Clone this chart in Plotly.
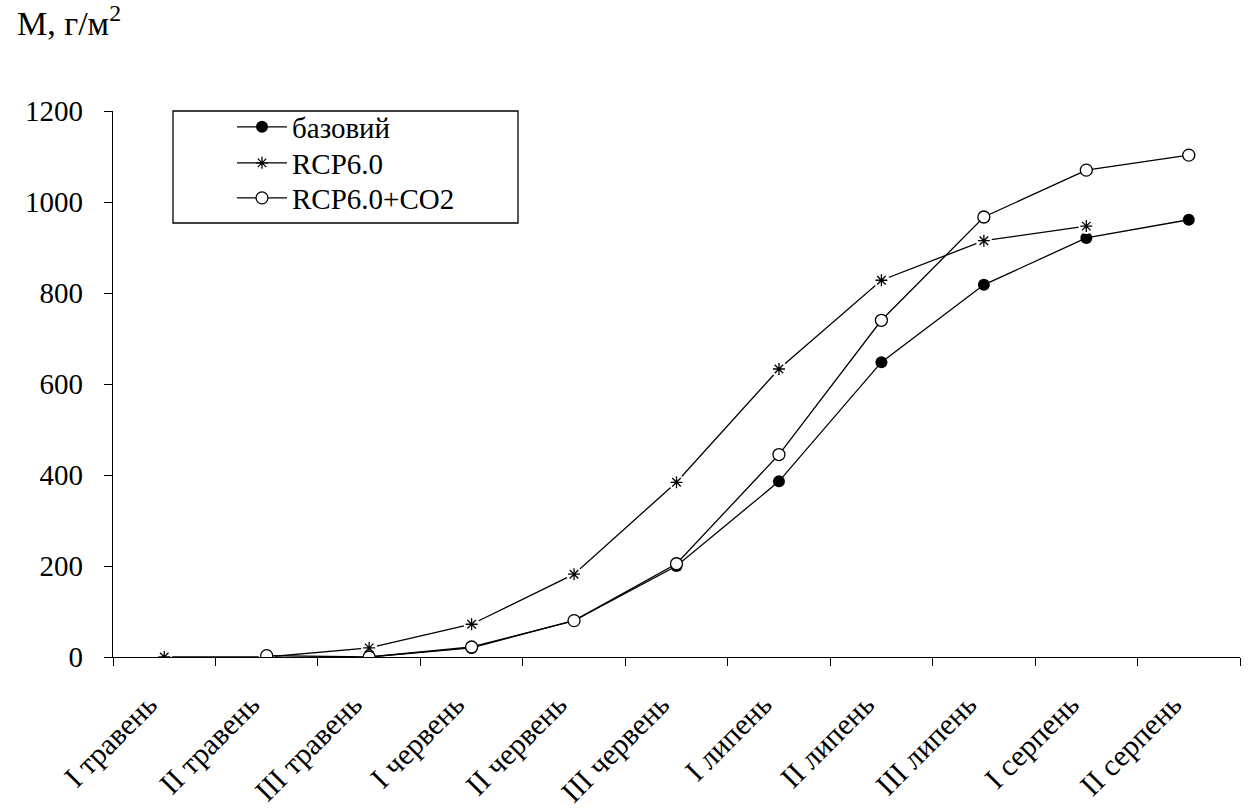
import plotly.graph_objects as go

categories = ["I травень", "II травень", "III травень", "I червень", "II червень",
              "III червень", "I липень", "II липень", "III липень", "I серпень", "II серпень"]
base = [None, None, 0, 20, 80, 200, 386, 648, 818, 921, 961]
rcp = [0, 0, 20, 72, 182, 384, 633, 828, 915, 947, None]
rcp_co2 = [None, 3, 0, 22, 80, 205, 445, 740, 967, 1070, 1103]
y_ticks = [0, 200, 400, 600, 800, 1000, 1200]

FONT = "Liberation Serif, Times New Roman, serif"
PAD = "\u00a0\u00a0\u00a0"
W, L, T, H, B = 1127, 113, 111, 546, 657


def px_x(p):
    return (p - L) / W


def px_y(p):
    return (B - p) / H


fig = go.Figure()

# legend-only entries, one legend each so the row spacing can follow the reference
fig.add_trace(go.Scatter(x=[None], y=[None], name="базовий", mode="lines+markers",
                         legend="legend",
                         line=dict(color="black", width=1.3),
                         marker=dict(symbol="circle", size=12, color="black")))
fig.add_trace(go.Scatter(x=[None], y=[None], name="RCP6.0", mode="lines+markers",
                         legend="legend2",
                         line=dict(color="black", width=1.3),
                         marker=dict(symbol="asterisk-open", size=10, color="black",
                                     line=dict(color="black", width=1.3))))
fig.add_trace(go.Scatter(x=[None], y=[None], name="RCP6.0+CO2", mode="lines+markers",
                         legend="legend3",
                         line=dict(color="black", width=1.3),
                         marker=dict(symbol="circle", size=12, color="white",
                                     line=dict(color="black", width=1.3))))

# data traces
fig.add_trace(go.Scatter(x=categories, y=base, mode="lines+markers", showlegend=False,
                         line=dict(color="black", width=1.3),
                         marker=dict(symbol="circle", size=12, color="black")))
fig.add_trace(go.Scatter(x=categories, y=rcp, mode="lines", showlegend=False,
                         line=dict(color="black", width=1.3)))
fig.add_trace(go.Scatter(x=categories, y=rcp, mode="markers", showlegend=False,
                         marker=dict(symbol="circle", size=16, color="white")))
fig.add_trace(go.Scatter(x=categories, y=rcp, mode="markers", showlegend=False,
                         marker=dict(symbol="asterisk-open", size=10, color="black",
                                     line=dict(color="black", width=1.3))))
fig.add_trace(go.Scatter(x=categories, y=rcp_co2, mode="lines+markers", showlegend=False,
                         line=dict(color="black", width=1.3),
                         marker=dict(symbol="circle", size=12, color="white",
                                     line=dict(color="black", width=1.3))))

leg_common = dict(xanchor="left", yanchor="middle", bgcolor="rgba(0,0,0,0)", borderwidth=0,
                  font=dict(family=FONT, size=29, color="black"), itemwidth=50)

fig.update_layout(
    width=1248, height=810,
    margin=dict(l=L, r=1248 - L - W, t=T, b=810 - B),
    plot_bgcolor="white", paper_bgcolor="white",
    font=dict(family=FONT, size=28, color="black"),
    legend=dict(x=px_x(232), y=px_y(127), **leg_common),
    legend2=dict(x=px_x(232), y=px_y(163), **leg_common),
    legend3=dict(x=px_x(232), y=px_y(198), **leg_common),
    shapes=[dict(type="rect", xref="paper", yref="paper",
                 x0=px_x(173), x1=px_x(518), y0=px_y(223), y1=1.0,
                 line=dict(color="black", width=1.3), fillcolor="rgba(0,0,0,0)")],
    annotations=[dict(text="М, г/м<sup>2</sup>", xref="paper", yref="paper",
                      x=px_x(15), y=px_y(44), xanchor="left", yanchor="bottom",
                      showarrow=False, font=dict(family=FONT, size=34, color="black"))],
)

fig.update_xaxes(type="category", categoryorder="array", categoryarray=categories,
                 tickvals=categories, ticktext=[c + PAD for c in categories],
                 range=[-0.5, 10.5], showgrid=False, zeroline=False, automargin=False,
                 showline=True, linecolor="black", linewidth=1.3,
                 ticks="outside", ticklen=8, tickcolor="black", tickwidth=1.3,
                 tickson="boundaries", tickangle=-45, ticklabelstandoff=1,
                 tickfont=dict(family=FONT, size=30, color="black"))
fig.update_yaxes(range=[0, 1200], tickvals=y_ticks, ticktext=[str(v) for v in y_ticks],
                 showgrid=False, zeroline=False, automargin=False,
                 showline=True, linecolor="black", linewidth=1.3,
                 ticks="outside", ticklen=8, tickcolor="black", tickwidth=1.3,
                 ticklabelstandoff=15,
                 tickfont=dict(family=FONT, size=29, color="black"))

fig.write_html("out.html")
